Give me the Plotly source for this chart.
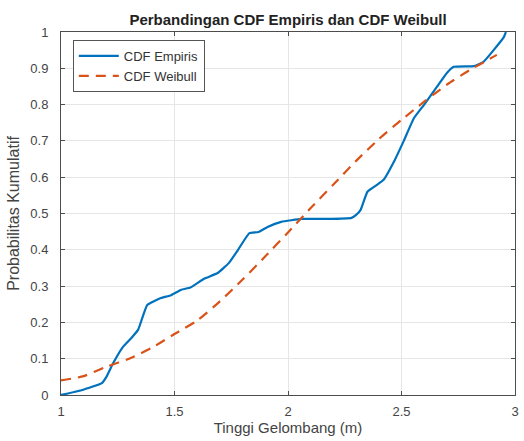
import plotly.graph_objects as go

# Empirical CDF of wave height
emp_x = [1.00, 1.09, 1.18, 1.20, 1.23, 1.27, 1.31, 1.34, 1.38, 1.44, 1.485, 1.53,
         1.57, 1.63, 1.69, 1.74, 1.78, 1.83, 1.87, 1.91, 1.97, 2.06, 2.17, 2.28,
         2.30, 2.32, 2.35, 2.39, 2.42, 2.47, 2.51, 2.555, 2.60, 2.655, 2.70, 2.73,
         2.82, 2.86, 2.95, 2.96]
emp_y = [0.000, 0.013, 0.033, 0.050, 0.088, 0.130, 0.157, 0.180, 0.248, 0.267, 0.275, 0.290,
         0.296, 0.320, 0.336, 0.364, 0.400, 0.446, 0.449, 0.463, 0.477, 0.485, 0.485, 0.488,
         0.496, 0.510, 0.560, 0.578, 0.592, 0.647, 0.700, 0.763, 0.800, 0.848, 0.887, 0.904,
         0.906, 0.917, 0.985, 1.000]

# Fitted Weibull CDF
wb_x = [1.0, 1.1, 1.2, 1.3, 1.4, 1.5, 1.6, 1.7, 1.8, 1.9, 2.0, 2.1, 2.2, 2.3, 2.4,
        2.5, 2.6, 2.7, 2.8, 2.9, 2.92]
wb_y = [0.040, 0.052, 0.078, 0.100, 0.130, 0.168, 0.205, 0.258, 0.318, 0.382, 0.448,
        0.515, 0.580, 0.645, 0.705, 0.758, 0.808, 0.855, 0.895, 0.930, 0.937]

x_ticks = [1, 1.5, 2, 2.5, 3]
y_ticks = [0, 0.1, 0.2, 0.3, 0.4, 0.5, 0.6, 0.7, 0.8, 0.9, 1]

FONT = "Liberation Sans, Arial, sans-serif"
AXIS_COLOR = "#4d4d4d"

fig = go.Figure()
fig.add_trace(go.Scatter(
    x=emp_x, y=emp_y, mode="lines", name="CDF Empiris",
    line=dict(color="#0072BD", width=2.2, shape="spline", smoothing=0.4),
))
fig.add_trace(go.Scatter(
    x=wb_x, y=wb_y, mode="lines", name="CDF Weibull",
    line=dict(color="#D95319", width=2.2, dash="10px,7px", shape="spline", smoothing=0.6),
))

axis_common = dict(
    showgrid=True, gridcolor="#e6e6e6", gridwidth=1,
    showline=True, linecolor=AXIS_COLOR, linewidth=1, mirror="ticks",
    ticks="inside", ticklen=4, tickcolor=AXIS_COLOR,
    zeroline=False,
    tickfont=dict(family=FONT, size=13, color="#444444"),
)

fig.update_layout(
    width=524, height=441,
    margin=dict(l=61, r=5, t=32, b=46),
    paper_bgcolor="white", plot_bgcolor="white",
    title=dict(
        text="<b>Perbandingan CDF Empiris dan CDF Weibull</b>",
        xref="paper", x=0.5, xanchor="center",
        yref="container", y=0.955, yanchor="middle",
        font=dict(family=FONT, size=15, color="#222222"),
    ),
    xaxis=dict(
        range=[1, 3], tickvals=x_ticks, ticktext=[str(v) for v in x_ticks],
        ticklabelstandoff=4,
        title=dict(text="Tinggi Gelombang (m)", standoff=4,
                   font=dict(family=FONT, size=15, color="#444444")),
        **axis_common,
    ),
    yaxis=dict(
        range=[0, 1], tickvals=y_ticks, ticktext=[f"{v:g}" for v in y_ticks],
        ticklabelstandoff=9,
        title=dict(text="Probabilitas Kumulatif", standoff=6,
                   font=dict(family=FONT, size=16, color="#444444")),
        **axis_common,
    ),
    legend=dict(
        x=0.026, y=0.978, xanchor="left", yanchor="top",
        bgcolor="white", bordercolor="#555555", borderwidth=1,
        font=dict(family=FONT, size=13, color="#333333"),
        itemwidth=40, tracegroupgap=0,
    ),
)

fig.write_html("out.html")
